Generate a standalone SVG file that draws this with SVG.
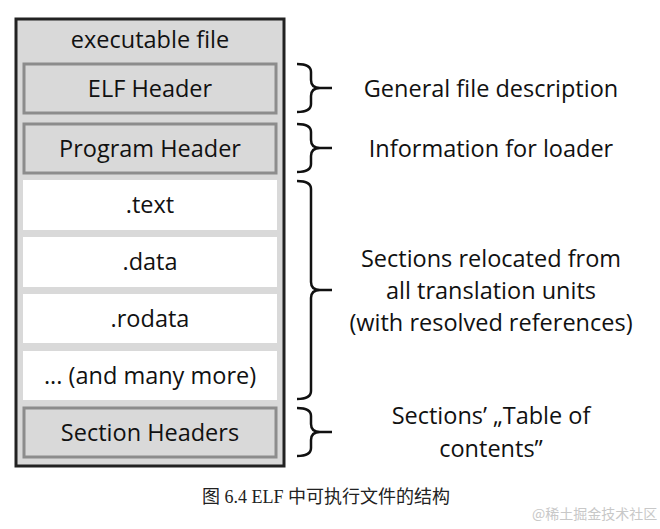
<svg xmlns="http://www.w3.org/2000/svg" width="660" height="529" viewBox="0 0 660 529">
<style>
.lbl{font-family:"Open Sans","Liberation Sans",sans-serif;font-size:23.5px;fill:#111;text-anchor:middle}
.hdr{fill:#d9d9d9;stroke:#8c8c8c;stroke-width:3}
.sec{fill:#ffffff;stroke:none}
.brace{fill:none;stroke:#111;stroke-width:2.5}
</style>
<rect width="660" height="529" fill="#ffffff"/>
<g id="executable-file">
<rect x="16" y="19" width="268" height="447" fill="#d9d9d9" stroke="#222" stroke-width="3"/>
<text class="lbl" x="150" y="48">executable file</text>
</g>
<g id="elf-header">
<rect class="hdr" x="24" y="64" width="252" height="49"/>
<text class="lbl" x="150" y="97">ELF Header</text>
</g>
<g id="program-header">
<rect class="hdr" x="24" y="124" width="252" height="49"/>
<text class="lbl" x="150" y="157">Program Header</text>
</g>
<g id="text">
<rect class="sec" x="23" y="180" width="254" height="50"/>
<text class="lbl" x="150" y="213">.text</text>
</g>
<g id="data">
<rect class="sec" x="23" y="237" width="254" height="50"/>
<text class="lbl" x="150" y="270">.data</text>
</g>
<g id="rodata">
<rect class="sec" x="23" y="294" width="254" height="49"/>
<text class="lbl" x="150" y="327">.rodata</text>
</g>
<g id="more">
<rect class="sec" x="23" y="351" width="254" height="49"/>
<text class="lbl" x="150" y="384">... (and many more)</text>
</g>
<g id="section-headers">
<rect class="hdr" x="24" y="408" width="252" height="49"/>
<text class="lbl" x="150" y="441">Section Headers</text>
</g>
<g id="connectors">
<path class="brace" d="M297,64 Q311,64 311,72 L311,80 Q311,88 320,88 Q311,88 311,96 L311,104 Q311,112 297,112 M320,88 L332,88"/>
<path class="brace" d="M297,124 Q311,124 311,132 L311,140 Q311,148 320,148 Q311,148 311,156 L311,164 Q311,172 297,172 M320,148 L332,148"/>
<path class="brace" d="M297,181 Q311,181 311,189 L311,282 Q311,290 320,290 Q311,290 311,298 L311,391 Q311,399 297,399 M320,290 L332,290"/>
<path class="brace" d="M297,408 Q311,408 311,416 L311,424 Q311,432 320,432 Q311,432 311,440 L311,448 Q311,456 297,456 M320,432 L332,432"/>
</g>
<g id="descriptions">
<text class="lbl" x="491" y="97">General file description</text>
<text class="lbl" x="491" y="157">Information for loader</text>
<text class="lbl" x="491" y="267">Sections relocated from</text>
<text class="lbl" x="491" y="299">all translation units</text>
<text class="lbl" x="491" y="331">(with resolved references)</text>
<text class="lbl" x="491" y="424">Sections’ „Table of</text>
<text class="lbl" x="491" y="457">contents”</text>
</g>
<text x="202" y="503" font-family="'Liberation Serif','Noto Sans CJK SC',serif" font-size="18" fill="#222">图 6.4 ELF 中可执行文件的结构</text>
<text x="532" y="519" font-family="'Noto Sans CJK SC',sans-serif" font-size="14" fill="#c8c8c8">@稀土掘金技术社区</text>
</svg>
